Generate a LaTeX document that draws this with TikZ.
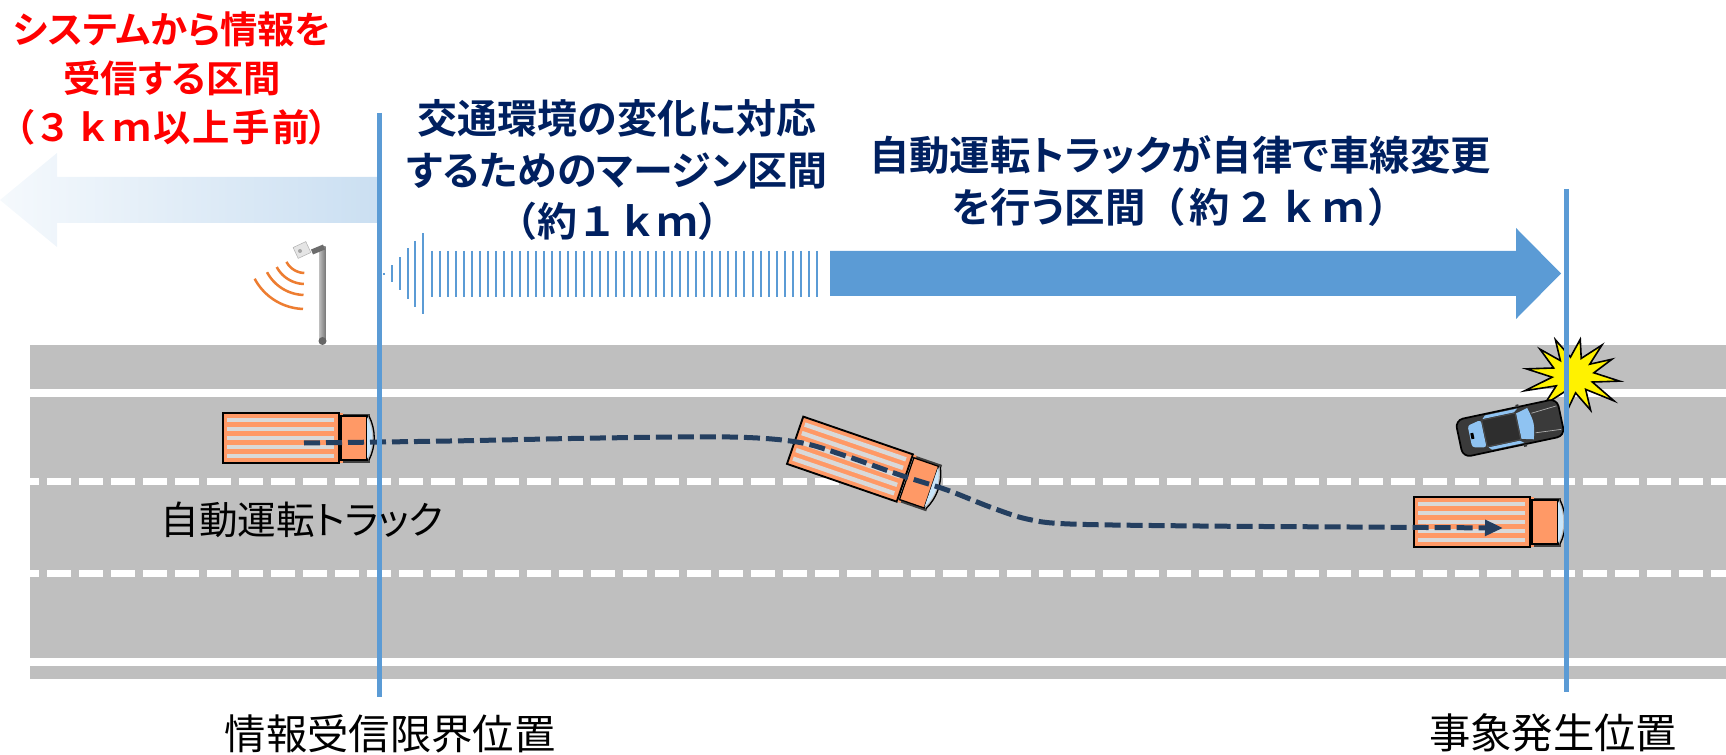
\documentclass[tikz,border=0pt]{standalone}
\usepackage{fontspec}
\usetikzlibrary{arrows.meta}
% proportional kana for running text, full-width forms for bracketed distances
\newfontfamily\jpfont{Noto Sans CJK JP}[BoldFont={* Bold}, RawFeature=+palt]
\newfontfamily\jpfull{Noto Sans CJK JP}[BoldFont={* Bold}]
\newfontfamily\jpmid{Noto Sans CJK JP}[BoldFont={* Bold}, LetterSpace=6]
\newfontfamily\jpwide{Noto Sans CJK JP}[BoldFont={* Bold}, LetterSpace=10]
\definecolor{navy}{HTML}{002060}
\definecolor{alertred}{HTML}{FF0000}
\definecolor{secblue}{HTML}{5B9BD5}
\definecolor{roadgray}{HTML}{BFBFBF}
\definecolor{trk}{HTML}{FF9966}
\definecolor{stripe}{HTML}{D9D9D9}
\definecolor{glass}{HTML}{C9E6FA}
\definecolor{route}{HTML}{243F60}
\definecolor{wavec}{HTML}{ED7D31}
\definecolor{carbody}{HTML}{3A3A3A}
\definecolor{carroof}{HTML}{2E2E2E}
\definecolor{carglass}{HTML}{8FC3F2}
\tikzset{
  boldlabel/.style={align=center, inner sep=0pt},
  plainlabel/.style={font=\jpfont\fontsize{31}{36}\selectfont, text=black, inner sep=0pt},
  marker/.style={draw=secblue, line width=3.75pt},
  routeline/.style={draw=route, line width=3.75pt, dash pattern=on 12pt off 4.5pt,
    -{Triangle[length=13.5pt,width=11.5pt]}},
  truck/.pic={
    % trailer with striped load
    \draw[line width=1.4pt, fill=trk] (-76,-25) rectangle (40,25);
    \foreach \s in {-18,-9,0,9,18}
      \fill[stripe] (-72,\s-2.2) rectangle (35,\s+2.2);
    % cab
    \fill[black!75] (41,-24.5) rectangle (71,-22);
    \fill[black!75] (41,22) rectangle (71,24.5);
    \fill[trk] (41,-25) rectangle (44,-23); \fill[trk] (41,23) rectangle (44,25);
    \draw[line width=0.9pt, fill=trk] (42,-22) rectangle (68,22);
    % windshield
    \fill[glass] (68,-21) .. controls (75,-8) and (75,8) .. (68,21) -- cycle;
    \draw[line width=1pt] (70,-22) .. controls (77,-8) and (77,8) .. (70,22);
  },
  car/.pic={
    \draw[black, line width=1.3pt, fill=carbody, rounded corners=6pt] (-52,-19) rectangle (52,19);
    % rear window
    \fill[carglass, rounded corners=2pt] (-41,-11) -- (-27,-14) -- (-27,14) -- (-41,11) -- cycle;
    \fill[black] (-40,-3) rectangle (-37,3);
    % side windows
    \fill[carglass] (-25,-14.5) -- (7,-14.5) -- (11,-17.5) -- (-22,-17.5) -- cycle;
    \fill[carglass] (-25,14.5) -- (7,14.5) -- (11,17.5) -- (-22,17.5) -- cycle;
    % roof
    \draw[black!70, line width=0.6pt, fill=carroof] (-26,-13.5) rectangle (8,13.5);
    % windshield
    \fill[carglass] (9,-13) -- (21,-16) .. controls (25,0) .. (21,16) -- (9,13) -- cycle;
    % hood creases
    \draw[gray!60, line width=0.5pt] (24,-10) -- (50,-12) (24,10) -- (50,12);
    % mirrors
    \fill[black!80] (10,-21.5) rectangle (13,-19); \fill[black!80] (10,19) rectangle (13,21.5);
  }
}
\begin{document}
\begin{tikzpicture}[x=0.75pt,y=-0.75pt]
\useasboundingbox (0,0) rectangle (1726,755);

% road surface
\fill[roadgray] (30,345) rectangle (1726,389);
\fill[roadgray] (30,397) rectangle (1726,658);
\fill[roadgray] (30,666) rectangle (1726,679);
% lane markings
\foreach \ly in {481,573}
  \draw[white, line width=5.25pt, dash pattern=on 18pt off 6pt, dash phase=11.25pt] (30,\ly) -- (1726,\ly);

% roadside unit
\fill[left color=gray!55, right color=gray!95!black] (319.5,247) rectangle (325.5,341);
\fill[gray!80!black] (322.5,341) circle (3pt);
\draw[gray!85!black, line width=4pt] (324,247) -- (312,252);
\draw[gray!60, fill=gray!20, rotate around={25:(302,250)}] (295,244) rectangle (309,256);
\fill[gray!70] (300,251) circle (1.5pt);
\foreach \r in {21,32,43,57}
  \draw[wavec, line width=1.9pt] plot[domain=92:152, samples=24] ({305+\r*cos(\x)},{252+\r*sin(\x)});

% section arrow: receiving range (fading leftwards)
\shade[left color=secblue!6, middle color=secblue!48, right color=secblue!32]
  (377,177) -- (57,177) -- (57,153) -- (0,200) -- (57,247) -- (57,223) -- (377,223) -- cycle;

% margin section: ramp then striped band
\foreach \i/\h in {0/1.2,1/8.5,2/16.5,3/25.5,4/33,5/40.5}
  \draw[secblue, line width=1.5pt] (384+7.85*\i,274-\h) -- (384+7.85*\i,274+\h);
\foreach \i in {0,...,48}
  \draw[secblue, line width=1.5pt] (431.7+8.02*\i,251) -- (431.7+8.02*\i,297);

% lane-change section arrow
\fill[secblue] (830,251) -- (1516,251) -- (1516,228) -- (1561,273.5) -- (1516,319) -- (1516,296) -- (830,296) -- cycle;

% accident
\draw[black, line width=1.2pt, fill=yellow, line join=miter]
  plot[samples at={0,15,...,345}, variable=\a]
  ({1573+(mod(\a,30)==0 ? 47+5*sin(3*\a) : 21)*cos(\a+8)},
   {375+(mod(\a,30)==0 ? 40+4*cos(2*\a) : 18)*sin(\a+8)}) -- cycle;
\pic[rotate=12] at (1510,428) {car};

% trucks
\pic at (299,438) {truck};
\pic[rotate=-19] at (867,465) {truck};
\pic at (1490,522) {truck};

% planned trajectory
\coordinate (routeA) at (304,443);
\coordinate (routeB) at (1503,528);
\draw[routeline] plot[smooth, tension=0.55] coordinates {
  (304,443) (450,441) (600,438) (730,437) (797,442) (843,455) (900,475)
  (947,490) (990,507) (1027,519) (1070,524) (1200,526) (1350,527) (1503,528)};

% position markers
\draw[marker] (379.5,113) -- (379.5,697);
\draw[marker] (1566,189) -- (1566,692);

% labels
\node[boldlabel, text=alertred, font=\jpfont\bfseries\fontsize{28}{36.75}\selectfont] (rx) at (172,78.5)
  {システムから情報を\\受信する区間\\（{\jpmid\bfseries ３ｋｍ以上手前}）};
\node[boldlabel, text=navy, font=\jpfont\bfseries\fontsize{30}{38.5}\selectfont] (mg) at (617,170)
  {交通環境の変化に対応\\するためのマージン区間\\{\jpfull\bfseries（約１ｋｍ）}};
\node[boldlabel, text=navy, font=\jpfont\bfseries\fontsize{30.3}{39.5}\selectfont] (lc) at (1180,181)
  {自動運転トラックが自律で車線変更\\を行う区間{\jpwide\bfseries（約２ｋｍ）}};
\node[plainlabel, font=\jpfont\fontsize{29}{36}\selectfont] (tl) at (302,520) {自動運転トラック};
\node[plainlabel] (lim) at (390,734) {情報受信限界位置};
\node[plainlabel] (ev) at (1553,733) {事象発生位置};
\end{tikzpicture}
\end{document}
